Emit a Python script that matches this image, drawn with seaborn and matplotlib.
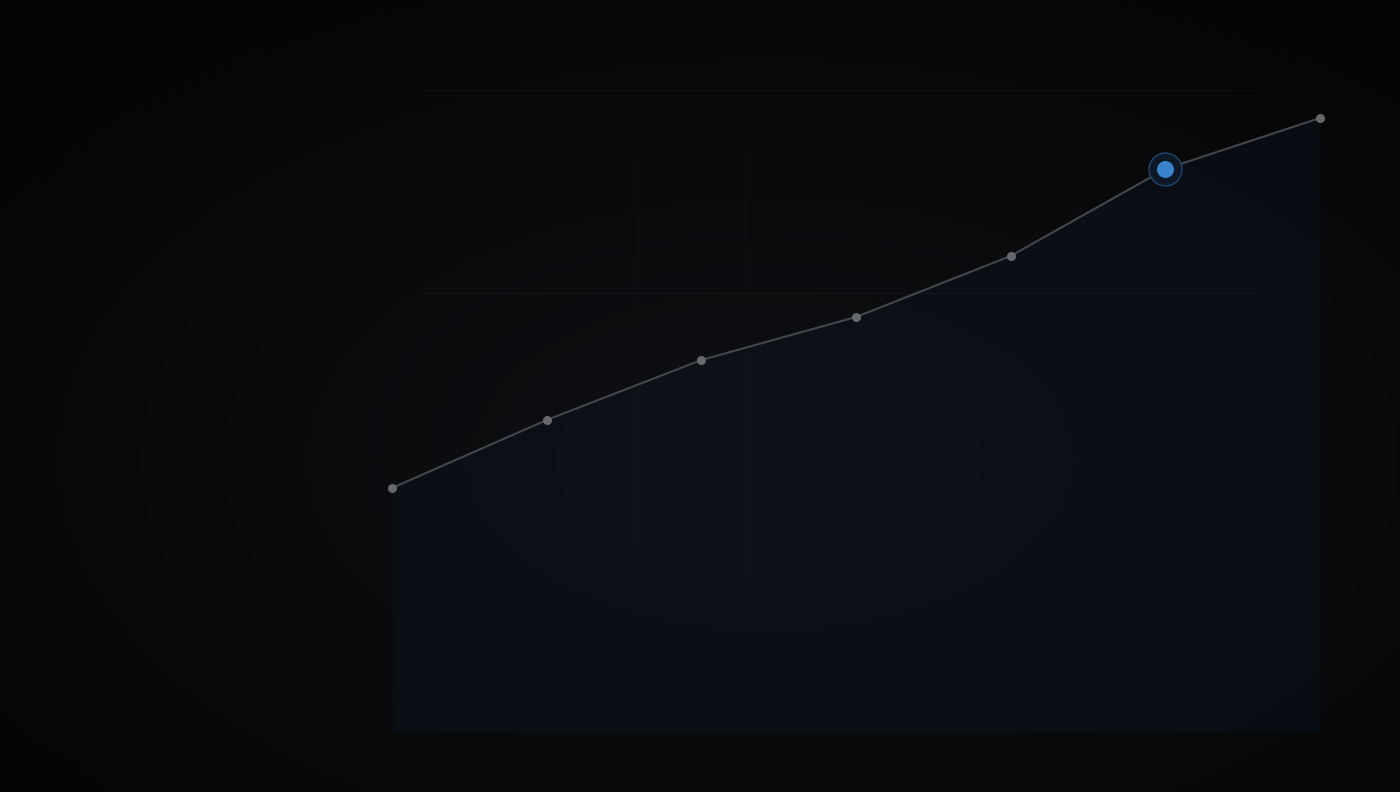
import numpy as np
import pandas as pd
import seaborn as sns
import matplotlib.pyplot as plt

# series (arbitrary units, baseline = 0)
steps = [0, 1, 2, 3, 4, 5, 6]
values = [244, 312, 372, 415, 476, 563, 614]
highlight = 5
grid_y = [439, 642]
grid_x = [1.587, 2.291, 4.407, 5.111]


def main():
    sns.set_theme(style="dark")
    plt.rcParams['font.family'] = ['DejaVu Sans']

    fig = plt.figure(figsize=(14, 7.92), dpi=100)
    fig.patch.set_facecolor("#08090a")

    # soft vignette behind the chart
    bg = fig.add_axes([0, 0, 1, 1], zorder=0)
    yy, xx = np.mgrid[0:1:200j, 0:1:350j]
    r = np.sqrt(((xx - 0.55) / 0.75) ** 2 + ((yy - 0.58) / 0.75) ** 2)
    shade = np.clip(1 - r, 0, 1)
    bg.imshow(shade, cmap=sns.blend_palette(["#040404", "#0d0e11"], as_cmap=True),
              extent=[0, 1, 0, 1], aspect="auto", vmin=0, vmax=0.8)
    bg.set_axis_off()

    ax = fig.add_axes([0, 0, 1, 1], zorder=1)
    ax.patch.set_alpha(0)
    px = 154.67
    ax.set_xlim(-392 / px, 6 + 80 / px)
    ax.set_ylim(-60, 732)

    for gy in grid_y:
        ax.axhline(gy, xmin=0.3, xmax=0.9, color="#ffffff", alpha=0.03, lw=1)
    for gx in grid_x:
        ax.axvline(gx, ymin=0.08, ymax=0.93, color="#ffffff", alpha=0.02, lw=1)

    df = pd.DataFrame({"step": steps, "value": values})
    ax.fill_between(df["step"], 0, df["value"], color="#123457", alpha=0.12, lw=0)
    ax.fill_between(df["step"], 0, df["value"], color="#0a0f18", alpha=0.3, lw=0)

    sns.lineplot(data=df, x="step", y="value", ax=ax, color="#43464b", lw=1.5,
                 marker="o", markersize=6.5, markerfacecolor="#66686c",
                 markeredgewidth=0)

    hx, hv = steps[highlight], values[highlight]
    ax.scatter([hx], [hv], s=560, facecolor="#0c1826", edgecolor="#1f4670",
               lw=1.0, zorder=4)
    ax.scatter([hx], [hv], s=150, color="#3a82c9", lw=0, zorder=5)

    ax.set_axis_off()
    fig.savefig("out.png", dpi=100, facecolor=fig.get_facecolor())


if __name__ == '__main__':
    main()
